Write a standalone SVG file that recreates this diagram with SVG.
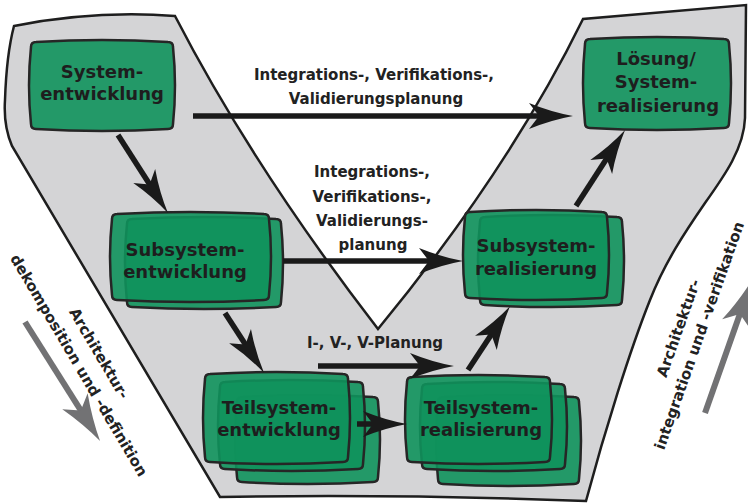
<svg xmlns="http://www.w3.org/2000/svg" width="748" height="504" viewBox="0 0 748 504">
<style>
.bg{fill:#d4d4d6;stroke:#1e1e1e;stroke-width:2.5;stroke-linejoin:miter}
.box{fill:#0f925c;fill-opacity:0.9;stroke:#262626;stroke-width:2.5}
.nt{font-family:"DejaVu Sans","Liberation Sans",sans-serif;font-weight:bold;font-size:18px;fill:#1e1e1e;text-anchor:middle}
.lt{font-family:"DejaVu Sans","Liberation Sans",sans-serif;font-weight:bold;font-size:15px;fill:#222;text-anchor:middle}
.ar{fill:none;stroke:#1a1a1a;stroke-width:5.5;marker-end:url(#ah)}
.ga{fill:none;stroke:#727274;stroke-width:6;marker-end:url(#gh)}
</style>
<defs>
<marker id="ah" viewBox="-12 -15 48 30" markerWidth="48" markerHeight="30" refX="2" refY="0" orient="auto" markerUnits="userSpaceOnUse">
<path d="M34,0 Q12,-4 -10,-13 L0,0 L-10,13 Q12,4 34,0 Z" fill="#1a1a1a"/>
</marker>
<marker id="gh" viewBox="-13 -17 52 34" markerWidth="52" markerHeight="34" refX="2" refY="0" orient="auto" markerUnits="userSpaceOnUse">
<path d="M36,0 Q13,-5 -11,-15 L0,0 L-11,15 Q13,5 36,0 Z" fill="#727274"/>
</marker>
</defs>

<path id="v-shape" class="bg" d="M14,26 Q95,10 175,16 Q253,167 378,329 Q509,170 583,19 Q665,12 746,5 L745,118 C744,148 725,175 705,203 C685,232 665,262 650,300 C630,350 605,430 586,501 Q400,494 220,497 L12,146 C6,132 4,115 5,100 C6,70 9,45 14,26 Z"/>

<g id="side-arrows">
<path class="ga" d="M25,322 L81.9,412.2"/>
<path class="ga" d="M705,413 L740.6,312.1"/>
</g>

<g id="labels">
<text class="lt" x="374" y="80">Integrations-, Verifikations-,</text>
<text class="lt" x="376" y="104">Validierungsplanung</text>
<text class="lt" x="372" y="177">Integrations-,</text>
<text class="lt" x="372" y="202">Verifikations-,</text>
<text class="lt" x="372" y="226">Validierungs-</text>
<text class="lt" x="373" y="250">planung</text>
<text class="lt" x="375" y="348">I-, V-, V-Planung</text>
<g transform="translate(89.5,359) rotate(59.5)">
<text class="lt" x="0" y="-6">Architektur-</text>
<text class="lt" x="0" y="17.5">dekomposition und -definition</text>
</g>
<g transform="translate(689,332) rotate(-70.5)">
<text class="lt" x="0" y="-6">Architektur-</text>
<text class="lt" x="0" y="16">integration und -verifikation</text>
</g>
</g>

<g id="systementwicklung">
<path class="box" d="M36,42 Q102,38 168,42 Q173,42 173,47 Q177,85.5 173,124 Q173,129 168,129 Q102,133 36,129 Q31,129 31,124 Q27,85.5 31,47 Q31,42 36,42 Z"/>
<text class="nt" x="102" y="78">System-</text>
<text class="nt" x="102" y="100">entwicklung</text>
</g>

<g id="loesung-systemrealisierung">
<path class="box" d="M590,39 Q657,35 724,39 Q729,39 729,44 Q733,83.5 729,123 Q729,128 724,128 Q657,132 590,128 Q585,128 585,123 Q581,83.5 585,44 Q585,39 590,39 Z"/>
<text class="nt" x="656" y="65">Lösung/</text>
<text class="nt" x="656" y="88">System-</text>
<text class="nt" x="658" y="112">realisierung</text>
</g>

<g id="subsystementwicklung">
<path class="box" d="M132,219 Q204,215 276,219 Q281,219 281,224 Q285,263 281,302 Q281,307 276,307 Q204,311 132,307 Q127,307 127,302 Q123,263 127,224 Q127,219 132,219 Z"/>
<path class="box" d="M117,214 Q190.5,210 264,214 Q269,214 269,219 Q273,257 269,295 Q269,300 264,300 Q190.5,304 117,300 Q112,300 112,295 Q108,257 112,219 Q112,214 117,214 Z"/>
<text class="nt" x="185" y="256">Subsystem-</text>
<text class="nt" x="185" y="278">entwicklung</text>
</g>

<g id="subsystemrealisierung">
<path class="box" d="M485,217 Q551,213 617,217 Q622,217 622,222 Q626,261 622,300 Q622,305 617,305 Q551,309 485,305 Q480,305 480,300 Q476,261 480,222 Q480,217 485,217 Z"/>
<path class="box" d="M470,212 Q536,208 602,212 Q607,212 607,217 Q611,255 607,293 Q607,298 602,298 Q536,302 470,298 Q465,298 465,293 Q461,255 465,217 Q465,212 470,212 Z"/>
<text class="nt" x="536" y="252">Subsystem-</text>
<text class="nt" x="536" y="275">realisierung</text>
</g>

<g id="teilsystementwicklung">
<path class="box" d="M242,397 Q307.5,393 373,397 Q378,397 378,402 Q382,439.5 378,477 Q378,482 373,482 Q307.5,486 242,482 Q237,482 237,477 Q233,439.5 237,402 Q237,397 242,397 Z"/>
<path class="box" d="M225,382 Q291.5,378 358,382 Q363,382 363,387 Q367,425.5 363,464 Q363,469 358,469 Q291.5,473 225,469 Q220,469 220,464 Q216,425.5 220,387 Q220,382 225,382 Z"/>
<path class="box" d="M210,374 Q276.5,370 343,374 Q348,374 348,379 Q352,418 348,457 Q348,462 343,462 Q276.5,466 210,462 Q205,462 205,457 Q201,418 205,379 Q205,374 210,374 Z"/>
<text class="nt" x="279" y="414">Teilsystem-</text>
<text class="nt" x="279" y="436">entwicklung</text>
</g>

<g id="teilsystemrealisierung">
<path class="box" d="M443,397 Q508.5,393 574,397 Q579,397 579,402 Q583,440.5 579,479 Q579,484 574,484 Q508.5,488 443,484 Q438,484 438,479 Q434,440.5 438,402 Q438,397 443,397 Z"/>
<path class="box" d="M427,384 Q493.5,380 560,384 Q565,384 565,389 Q569,426.5 565,464 Q565,469 560,469 Q493.5,473 427,469 Q422,469 422,464 Q418,426.5 422,389 Q422,384 427,384 Z"/>
<path class="box" d="M412,377 Q478.5,373 545,377 Q550,377 550,382 Q554,419.5 550,457 Q550,462 545,462 Q478.5,466 412,462 Q407,462 407,457 Q403,419.5 407,382 Q407,377 412,377 Z"/>
<text class="nt" x="481" y="414">Teilsystem-</text>
<text class="nt" x="481" y="436">realisierung</text>
</g>

<g id="connectors">
<path class="ar" d="M193,116 L541,116"/>
<path class="ar" d="M118,135 L150.7,186.1"/>
<path class="ar" d="M283,261 L431,261"/>
<path class="ar" d="M225,313 L246.6,346.2"/>
<path class="ar" d="M318,366 L422,366"/>
<path class="ar" d="M357,424 L375,424"/>
<path class="ar" d="M468,370 L492.5,332.8"/>
<path class="ar" d="M576,206 L607.7,156.9"/>
</g>
</svg>
